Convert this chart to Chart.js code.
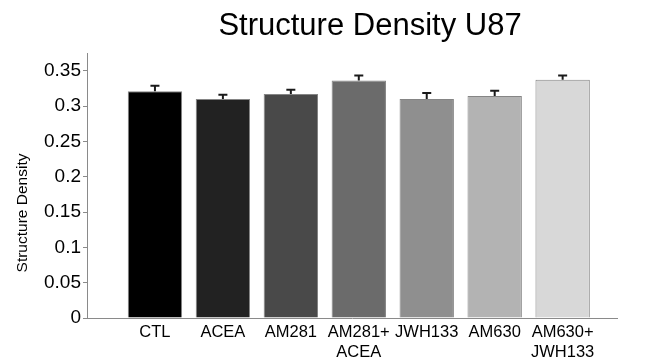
<!DOCTYPE html>
<html>
<head>
<meta charset="utf-8">
<script src="https://cdn.jsdelivr.net/npm/chart.js@4.4.1/dist/chart.umd.min.js"></script>
<style>
  html, body { margin: 0; padding: 0; background: #fff; }
  #wrap { width: 648px; height: 362px; position: relative; }
</style>
</head>
<body>
<div id="wrap"><canvas id="chart" width="648" height="362"></canvas></div>
<script>
// data
var categories = [['CTL'], ['ACEA'], ['AM281'], ['AM281+', 'ACEA'], ['JWH133'], ['AM630'], ['AM630+', 'JWH133']];
var densityValues = [0.321, 0.310, 0.317, 0.336, 0.310, 0.314, 0.337];
var densityErrors = [0.0075, 0.006, 0.006, 0.007, 0.0085, 0.0075, 0.006];
var barColors = ['#000000', '#222222', '#494949', '#6b6b6b', '#8f8f8f', '#b3b3b3', '#d8d8d8'];
var yTicks = [0, 0.05, 0.1, 0.15, 0.2, 0.25, 0.3, 0.35];

var FONT = "'Liberation Sans', Arial, sans-serif";

// bars sit at x = 1..7 on a 0..7.8 axis
var points = densityValues.map(function (v, i) {
    return { x: i + 1, y: v };
});

// draws the error bars (upper half only) and the two titles
var extrasPlugin = {
    id: 'extras',
    afterDatasetsDraw: function (chart) {
        var ctx = chart.ctx;
        var xs = chart.scales.x;
        var ys = chart.scales.y;
        ctx.save();
        ctx.strokeStyle = '#1a1a1a';
        ctx.lineWidth = 2;
        for (var i = 0; i < densityValues.length; i++) {
            var px = xs.getPixelForValue(i + 1);
            var top = ys.getPixelForValue(densityValues[i]);
            var cap = ys.getPixelForValue(densityValues[i] + densityErrors[i]);
            ctx.beginPath();
            ctx.moveTo(px, top);
            ctx.lineTo(px, cap);
            ctx.moveTo(px - 4.5, cap);
            ctx.lineTo(px + 4.5, cap);
            ctx.stroke();
        }
        ctx.restore();
    },
    afterDraw: function (chart) {
        var ctx = chart.ctx;
        ctx.save();
        ctx.fillStyle = '#000';
        ctx.textAlign = 'center';
        ctx.textBaseline = 'middle';
        ctx.font = '31px ' + FONT;
        ctx.fillText('Structure Density U87', 370, 26);
        ctx.translate(23, 213);
        ctx.rotate(-Math.PI / 2);
        ctx.font = '15.5px ' + FONT;
        ctx.fillText('Structure Density', 0, 0);
        ctx.restore();
    }
};

new Chart(document.getElementById('chart').getContext('2d'), {
    type: 'bar',
    data: {
        datasets: [{
            data: points,
            backgroundColor: barColors,
            borderColor: '#858585',
            borderWidth: 1,
            categoryPercentage: 1,
            barPercentage: 0.8
        }]
    },
    plugins: [extrasPlugin],
    options: {
        responsive: false,
        animation: false,
        layout: { padding: { left: 12, right: 31, top: 53, bottom: 0 } },
        plugins: {
            legend: { display: false },
            title: { display: false },
            tooltip: { enabled: false }
        },
        scales: {
            x: {
                type: 'linear',
                min: 0,
                max: 7.8,
                offset: false,
                afterFit: function (s) { s.height = 44; },
                grid: { display: false },
                border: { display: true, color: '#8a8a8a', width: 1 },
                ticks: {
                    stepSize: 1,
                    includeBounds: false,
                    autoSkip: false,
                    maxRotation: 0,
                    padding: -3,
                    color: '#000',
                    font: { family: FONT, size: 16.5, lineHeight: 1.18 },
                    callback: function (v) {
                        return categories[v - 1] || '';
                    }
                }
            },
            y: {
                min: 0,
                max: 0.375,
                afterFit: function (s) { s.width = 75; },
                afterBuildTicks: function (s) {
                    s.ticks = yTicks.map(function (t) { return { value: t }; });
                },
                grid: { drawOnChartArea: false, drawTicks: true, tickLength: 4, color: '#8a8a8a' },
                border: { display: true, color: '#8a8a8a', width: 1 },
                ticks: {
                    padding: 2,
                    color: '#000',
                    font: { family: FONT, size: 19 },
                    callback: function (v) { return String(v); }
                }
            }
        }
    }
});
</script>
</body>
</html>
